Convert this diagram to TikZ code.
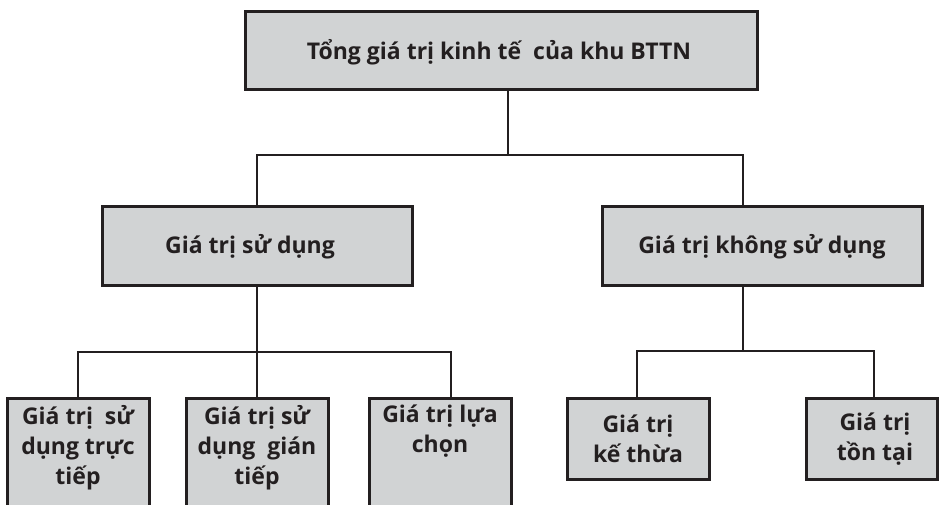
\documentclass[tikz,border=0pt]{standalone}
\usepackage{fontspec}
\setmainfont{Open Sans}
\definecolor{boxfill}{HTML}{D1D3D4}
\definecolor{ink}{HTML}{231F20}
\begin{document}
\begin{tikzpicture}[x=1pt,y=-1pt,
  box/.style={draw=ink, fill=boxfill, line width=3pt, rectangle, inner sep=0pt},
  lbl/.style={text=ink, font=\bfseries\fontsize{23}{30}\selectfont, align=center, inner sep=0pt},
  conn/.style={draw=ink, line width=2.8pt}]
\useasboundingbox (0,0) rectangle (939,505);
\clip (0,0) rectangle (939,505);
% boxes
\node[box, minimum width=512pt, minimum height=78pt] (top) at (501,51) {};
\node[lbl] (topt) at (499,52) {Tổng giá trị kinh tế\ \ của khu BTTN};
\node[box, minimum width=310pt, minimum height=79pt] (mL) at (257,245.5) {};
\node[lbl] (mLt) at (250,247) {Giá trị sử dụng};
\node[box, minimum width=320pt, minimum height=79pt] (mR) at (762,245.5) {};
\node[lbl] (mRt) at (762,247) {Giá trị không sử dụng};
\node[box, minimum width=142pt, minimum height=130pt, anchor=north] (b1) at (78,397) {};
\node[lbl, anchor=north] (b1t) at (78,405) {Giá trị\ \ sử\\dụng trực\\tiếp};
\node[box, minimum width=142pt, minimum height=130pt, anchor=north] (b2) at (257,397) {};
\node[lbl, anchor=north] (b2t) at (257,405) {Giá trị sử\\dụng\ \ gián\\tiếp};
\node[box, minimum width=142pt, minimum height=130pt, anchor=north] (b3) at (440,397) {};
\node[lbl, anchor=north] (b3t) at (440,405) {Giá trị lựa\\chọn};
\node[box, minimum width=142pt, minimum height=81pt, anchor=north] (b4) at (638,397) {};
\node[lbl] (b4t) at (638,439) {Giá trị\\kế thừa};
\node[box, minimum width=131.5pt, minimum height=81pt, anchor=north] (b5) at (871.75,397) {};
\node[lbl] (b5t) at (875,439) {Giá trị\\tồn tại};
% junctions
\coordinate (j0) at (508,155);
\coordinate (jL) at (257,352);
\coordinate (jR) at (743,351);
% connectors
\draw[conn] (top.south -| j0) -- (j0);
\draw[conn] (mL.north) |- (j0) -| (mR.north -| jR);
\draw[conn] (mL.south) -- (jL);
\draw[conn] (b1.north) |- (jL) -| (b3.north -| 451,0);
\draw[conn] (jL) -- (b2.north);
\draw[conn] (mR.south -| jR) -- (jR);
\draw[conn] (b4.north -| 637,0) |- (jR) -| (b5.north -| 874,0);
\end{tikzpicture}
\end{document}
